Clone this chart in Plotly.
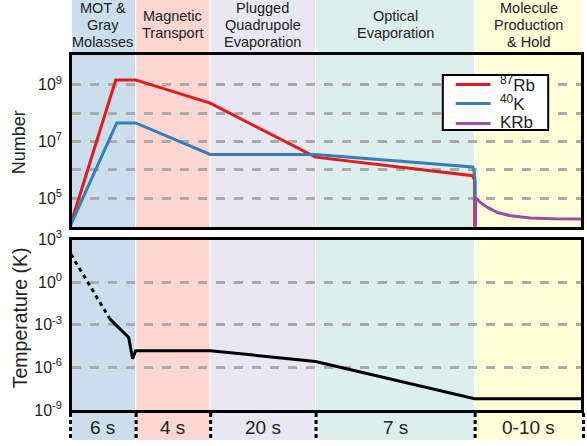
import plotly.graph_objects as go

# ---------------- data ----------------
phase_edges = [0, 66, 141, 247, 407, 516]          # schematic time axis
phase_titles = [["MOT &", "Gray", "Molasses"],
                ["Magnetic", "Transport"],
                ["Plugged", "Quadrupole", "Evaporation"],
                ["Optical", "Evaporation"],
                ["Molecule", "Production", "& Hold"]]
phase_durations = ["6 s", "4 s", "20 s", "7 s", "0-10 s"]
phase_colors = ["#cadeec", "#fcd6d0", "#e9e8f2", "#dcefec", "#fffdd8"]

species = ["<sup>87</sup>Rb", "<sup>40</sup>K", "KRb"]
species_colors = ["#e41a1c", "#377eb8", "#984ea3"]

rb_x = [0, 46, 66, 141, 247, 405, 407, 407]
rb_n = [1e4, 1.48e9, 1.48e9, 2.24e8, 2.8e6, 6.2e5, 4.2e5, 1e3]

k_x = [0, 47, 66, 141, 247, 405, 406.5, 407.5, 408]
k_n = [1e4, 4.5e7, 4.5e7, 3.5e6, 3.5e6, 1.26e6, 8.9e5, 4e5, 1e3]

krb_x = [408, 408, 410, 413, 420, 430, 443, 463, 487, 517]
krb_n = [1e3, 1e5, 8.9e4, 6.9e4, 4.7e4, 3.1e4, 2.4e4, 2.0e4, 1.86e4, 1.82e4]

temp_dotted_x = [1, 40]
temp_dotted = [91, 2.6e-3]
temp_solid_x = [40, 59, 63, 66, 141, 247, 407, 516]
temp_solid = [2.6e-3, 1.26e-4, 4e-6, 1.5e-5, 1.5e-5, 2.6e-6, 6.2e-9, 6.2e-9]

n_tickvals = [1e5, 1e6, 1e7, 1e8, 1e9]
n_ticktext = ["10<sup>5</sup>", "", "10<sup>7</sup>", "", "10<sup>9</sup>"]
t_tickvals = [1e-9, 1e-6, 1e-3, 1e0, 1e3]
t_ticktext = ["10<sup>-9</sup>", "10<sup>-6</sup>", "10<sup>-3</sup>", "10<sup>0</sup>", "10<sup>3</sup>"]

# ---------------- layout geometry ----------------
W, H = 587, 446
ML, MR, MT, MB = 72, 3, 55, 36
PW, PH = W - ML - MR, H - MT - MB
XR = [2, 514]

def py(pix):  # pixel y -> paper y
    return (H - MB - pix) / PH

def pxp(pix):  # pixel x -> paper x
    return (pix - ML) / PW

def px(xv):  # data x -> paper x
    return (xv - XR[0]) / (XR[1] - XR[0])

FONT = "Liberation Sans, Arial, sans-serif"

fig = go.Figure()
series = [(rb_x, rb_n), (k_x, k_n), (krb_x, krb_n)]
for (sx, sy), name, col in zip(series, species, species_colors):
    fig.add_trace(go.Scatter(x=sx, y=sy, mode="lines", name=name, showlegend=False,
                             line=dict(color=col, width=3), xaxis="x", yaxis="y"))
fig.add_trace(go.Scatter(x=temp_dotted_x, y=temp_dotted, mode="lines", showlegend=False,
                         line=dict(color="black", width=3, dash="4px,4px"), xaxis="x2", yaxis="y2"))
fig.add_trace(go.Scatter(x=temp_solid_x, y=temp_solid, mode="lines", showlegend=False,
                         line=dict(color="black", width=3), xaxis="x2", yaxis="y2"))

shapes = []
# phase background bands
for i in range(len(phase_colors)):
    x0 = phase_edges[i] + (0.6 if i > 0 else -2)
    x1 = phase_edges[i + 1] - (0.6 if i < len(phase_colors) - 1 else -2)
    shapes.append(dict(type="rect", xref="x", yref="paper", x0=x0, x1=x1,
                       y0=py(440), y1=py(-2), fillcolor=phase_colors[i],
                       line=dict(width=0), layer="below"))
# white gap between panels
shapes.append(dict(type="rect", xref="paper", yref="paper", x0=-0.01, x1=1.01,
                   y0=py(238.5), y1=py(227.5), fillcolor="white",
                   line=dict(width=0), layer="below"))
# dashed boundaries in the duration strip
for e in phase_edges:
    shapes.append(dict(type="line", xref="paper", yref="paper", x0=px(e + 0.5), x1=px(e + 0.5),
                       y0=py(413), y1=py(440), line=dict(color="black", width=3, dash="4px,3px")))

annotations = []
header_rows = {2: [16, 33.3], 3: [7.8, 25, 42]}
for i, lines in enumerate(phase_titles):
    xc = (phase_edges[i] + phase_edges[i + 1]) / 2
    for ln, yp in zip(lines, header_rows[len(lines)]):
        annotations.append(dict(x=xc, y=py(yp), xref="x", yref="paper", text=ln,
                                showarrow=False, xanchor="center", yanchor="middle",
                                font=dict(size=14.5, color="#222", family=FONT)))
for i, d in enumerate(phase_durations):
    xc = (phase_edges[i] + phase_edges[i + 1]) / 2
    annotations.append(dict(x=xc, y=py(427.5), xref="x", yref="paper", text=d,
                            showarrow=False, xanchor="center", yanchor="middle",
                            font=dict(size=19, color="#222", family=FONT)))
annotations.append(dict(x=pxp(19), y=py(142), xref="paper", yref="paper", text="Number",
                        textangle=-90, showarrow=False, xanchor="center", yanchor="middle",
                        font=dict(size=18, color="#222", family=FONT)))
annotations.append(dict(x=pxp(20), y=py(318), xref="paper", yref="paper",
                        text="Temperature (K)", textangle=-90, showarrow=False,
                        xanchor="center", yanchor="middle",
                        font=dict(size=19.5, color="#222", family=FONT)))

# legend box (drawn as a framed key)
shapes.append(dict(type="rect", xref="paper", yref="paper", x0=pxp(445), x1=pxp(551),
                   y0=py(130), y1=py(75), fillcolor="white",
                   line=dict(color="black", width=2), layer="above"))
key_line_y = [84.5, 103.5, 123.5]
key_text_y = [83.5, 102.5, 123]
for name, col, ly, ty in zip(species, species_colors, key_line_y, key_text_y):
    shapes.append(dict(type="line", xref="paper", yref="paper", x0=pxp(458), x1=pxp(493),
                       y0=py(ly), y1=py(ly), line=dict(color=col, width=3), layer="above"))
    annotations.append(dict(x=pxp(501), y=py(ty), xref="paper", yref="paper", text=name,
                            showarrow=False, xanchor="left", yanchor="middle",
                            font=dict(size=17, color="#222", family=FONT)))

axis_common = dict(showline=True, mirror=True, linecolor="black", linewidth=2.5,
                   zeroline=False, ticks="")
fig.update_layout(
    width=W, height=H,
    margin=dict(l=ML, r=MR, t=MT, b=MB, pad=0),
    paper_bgcolor="white", plot_bgcolor="rgba(0,0,0,0)",
    font=dict(family=FONT, color="#222"),
    xaxis=dict(domain=[0, 1], range=XR, showticklabels=False, showgrid=False,
               anchor="y", **axis_common),
    yaxis=dict(domain=[py(226.5), 1], type="log", range=[4, 10.05],
               tickvals=n_tickvals, ticktext=n_ticktext, showgrid=True,
               gridcolor="#ababab", gridwidth=2.5, griddash="dash",
               tickfont=dict(size=16, color="#222"), ticklabelstandoff=4,
               anchor="x", **axis_common),
    xaxis2=dict(domain=[0, 1], range=XR, showticklabels=False, showgrid=False,
                anchor="y2", matches="x", **axis_common),
    yaxis2=dict(domain=[0, py(239.5)], type="log", range=[-9, 3],
                tickvals=t_tickvals, ticktext=t_ticktext, showgrid=True,
                gridcolor="#ababab", gridwidth=2.5, griddash="dash",
                tickfont=dict(size=16, color="#222"), ticklabelstandoff=4,
                anchor="x2", **axis_common),
    shapes=shapes, annotations=annotations, showlegend=False,
)

fig.write_html("out.html", config={"displayModeBar": False},
               post_script="document.body.style.margin='0';document.body.style.overflow='hidden';")
